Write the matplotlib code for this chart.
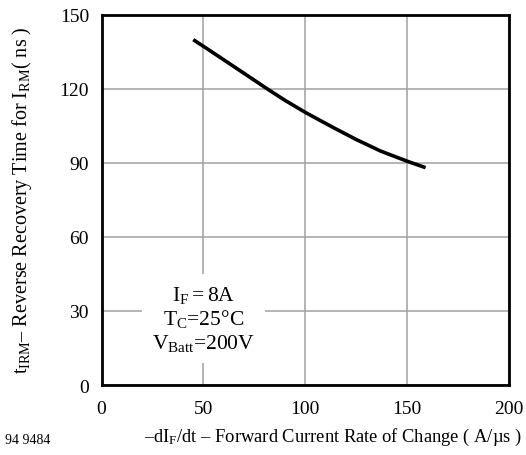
import matplotlib
matplotlib.use("Agg")
import matplotlib.pyplot as plt

# data
rate = [45, 52, 60, 70, 81, 90, 100, 108, 115, 125, 137, 150, 159]      # -dIF/dt (A/us)
trr = [140, 136.2, 131.8, 126.3, 120.2, 115.4, 110.5, 106.9, 103.8, 99.5, 94.8, 90.7, 88.1]  # t_IRM (ns)
x_ticks = [0, 50, 100, 150, 200]
y_ticks = [0, 30, 60, 90, 120, 150]

plt.rcParams['font.family'] = ['Liberation Serif', 'DejaVu Serif']
plt.rcParams['mathtext.fontset'] = 'custom'
plt.rcParams['mathtext.rm'] = 'Liberation Serif'
plt.rcParams['mathtext.it'] = 'Liberation Serif'
plt.rcParams['mathtext.bf'] = 'Liberation Serif'

fig = plt.figure(figsize=(5.26, 4.56), dpi=100)
ax = fig.add_axes([0.193, 0.1535, 0.775, 0.8115])

ax.plot(rate, trr, color='black', lw=2.6, solid_capstyle='butt',
        solid_joinstyle='round', zorder=3)

ax.set_xlim(0, 200)
ax.set_ylim(0, 150)
ax.set_xticks(x_ticks)
ax.set_yticks(y_ticks)
ax.tick_params(length=0, labelsize=14, pad=9)
ax.tick_params(axis='x', pad=11)
ax.grid(True, color='#a0a0a0', lw=1.1)
for s in ax.spines.values():
    s.set_linewidth(2)
    s.set_color('black')

ax.text(50, 27, r'$\mathrm{I_F=8A}$' + '\n' + r'$\mathrm{T_C}$=25°C' + '\n' + r'$\mathrm{V_{Batt}}$=200V',
        ha='center', va='center', fontsize=15.5, linespacing=1.15, zorder=4,
        bbox=dict(boxstyle='square,pad=0.45', fc='white', ec='none'))

fig.text(0.042, 0.56, r'$\mathrm{t_{IRM}}$– Reverse Recovery Time for $\mathrm{I_{RM}}$( ns )',
         rotation=90, ha='center', va='center', fontsize=14.5)
fig.text(0.633, 0.04, r'–dI$_\mathrm{F}$/dt – Forward Current Rate of Change ( A/µs )',
         ha='center', va='center', fontsize=13.3)
fig.text(0.01, 0.035, '94 9484', ha='left', va='center', fontsize=10)

fig.savefig('out.png', dpi=100)
